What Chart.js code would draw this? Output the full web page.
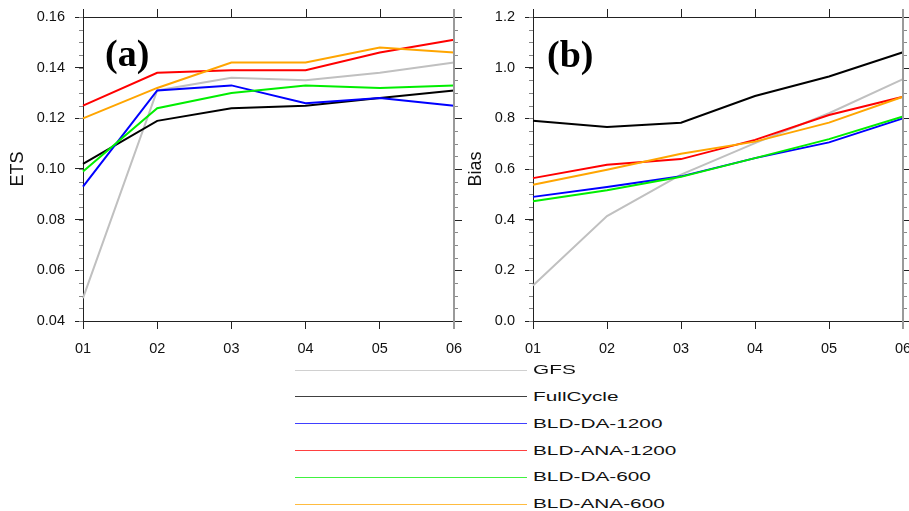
<!DOCTYPE html>
<html><head><meta charset="utf-8">
<script src="https://cdn.jsdelivr.net/npm/chart.js@4"></script>
<style>
html,body{margin:0;padding:0;background:#fff;overflow:hidden;width:909px;height:511px;position:relative;}
.pane{position:absolute;top:0;height:360px;}
.pane canvas{display:block;}
.plabel{position:absolute;font-family:'Liberation Serif','Times New Roman',serif;font-weight:bold;font-size:38px;line-height:1;color:#000;white-space:nowrap;}
.lgline{position:absolute;height:1px;left:295px;width:232px;opacity:0.75;}
.lgtext{position:absolute;left:533px;font-family:'Liberation Sans',Arial,Helvetica,sans-serif;font-size:13px;line-height:16px;height:16px;color:#111;transform:scaleX(1.6);transform-origin:0 50%;white-space:nowrap;}
</style></head><body>
<div class="pane" style="left:0;width:472px"><canvas id="c1" width="472" height="360"></canvas></div>
<div class="pane" style="left:450px;width:460px"><canvas id="c2" width="460" height="360"></canvas></div>
<div class="plabel" style="left:105px;top:34px">(a)</div>
<div class="plabel" style="left:547px;top:35px">(b)</div>
<div id="legend"></div>
<script>
// ---- data ----
const leadTimes = ['01','02','03','04','05','06'];
const seriesNames = ['GFS','FullCycle','BLD-DA-1200','BLD-ANA-1200','BLD-DA-600','BLD-ANA-600'];
const seriesColors = ['#c0c0c0','#000000','#0000ff','#ff0000','#00ee00','#ffa500'];

const gfsETS      = [0.049, 0.131, 0.136, 0.135, 0.138, 0.142];
const fullETS     = [0.102, 0.119, 0.124, 0.125, 0.128, 0.131];
const da1200ETS   = [0.093, 0.131, 0.133, 0.126, 0.128, 0.125];
const ana1200ETS  = [0.125, 0.138, 0.139, 0.139, 0.146, 0.151];
const da600ETS    = [0.099, 0.124, 0.130, 0.133, 0.132, 0.133];
const ana600ETS   = [0.120, 0.132, 0.142, 0.142, 0.148, 0.146];

const gfsBias     = [0.140, 0.414, 0.578, 0.702, 0.820, 0.955];
const fullBias    = [0.790, 0.766, 0.783, 0.888, 0.965, 1.061];
const da1200Bias  = [0.490, 0.529, 0.571, 0.643, 0.705, 0.800];
const ana1200Bias = [0.564, 0.617, 0.639, 0.715, 0.813, 0.885];
const da600Bias   = [0.473, 0.516, 0.569, 0.643, 0.718, 0.807];
const ana600Bias  = [0.538, 0.597, 0.660, 0.708, 0.783, 0.885];

const etsTicks  = {min:0.04, max:0.16, step:0.02, minor:0.005, digits:2};
const biasTicks = {min:0.0,  max:1.2,  step:0.2,  minor:0.05,  digits:1};

const etsSeries  = [gfsETS, fullETS, da1200ETS, ana1200ETS, da600ETS, ana600ETS];
const biasSeries = [gfsBias, fullBias, da1200Bias, ana1200Bias, da600Bias, ana600Bias];

// ---- frame plugin (top/right axes, minor ticks) ----
const framePlugin = {
  id: 'frame',
  afterDraw(chart, args, o) {
    const {ctx, chartArea: {left, right, top, bottom}} = chart;
    const x = chart.scales.x, y = chart.scales.y;
    const t = o.ticks;
    ctx.save();
    ctx.lineWidth = 1;
    ctx.strokeStyle = '#888';
    const nMinor = Math.round((t.max - t.min) / t.minor);
    for (let k = 0; k <= nMinor; k++) {
      const v = t.min + k * t.minor;
      const py = Math.round(y.getPixelForValue(v)) + 0.5;
      ctx.beginPath();
      ctx.moveTo(left - 4, py); ctx.lineTo(left, py);
      ctx.moveTo(right, py); ctx.lineTo(right + 4, py);
      ctx.stroke();
    }
    ctx.strokeStyle = '#222';
    const nMajor = Math.round((t.max - t.min) / t.step);
    for (let k = 0; k <= nMajor; k++) {
      const v = t.min + k * t.step;
      const py = Math.round(y.getPixelForValue(v)) + 0.5;
      ctx.beginPath(); ctx.moveTo(right, py); ctx.lineTo(right + 8, py); ctx.stroke();
    }
    const ty = Math.round(top) + 0.5;
    ctx.beginPath(); ctx.moveTo(left, ty); ctx.lineTo(right, ty); ctx.stroke();
    for (let i = 0; i < leadTimes.length; i++) {
      const px = Math.round(x.getPixelForValue(i)) + 0.5;
      ctx.beginPath(); ctx.moveTo(px, top); ctx.lineTo(px, top - 8); ctx.stroke();
    }
    ctx.strokeStyle = '#9a9a9a';
    ctx.lineWidth = 2;
    const rx = Math.round(right);
    ctx.beginPath(); ctx.moveTo(rx, top - 8); ctx.lineTo(rx, bottom + 8); ctx.stroke();
    ctx.restore();
  }
};

const FONT = "'Liberation Sans', Arial, Helvetica, sans-serif";

function makeChart(id, series, tk, title, titlePad, padRight) {
  return new Chart(document.getElementById(id), {
    type: 'line',
    data: {
      labels: leadTimes,
      datasets: series.map((d, i) => ({
        label: seriesNames[i],
        data: d,
        borderColor: seriesColors[i],
        backgroundColor: seriesColors[i],
        borderWidth: 2,
        pointRadius: 0,
        tension: 0,
        fill: false,
        order: series.length - i
      }))
    },
    options: {
      responsive: false,
      animation: false,
      devicePixelRatio: 1,
      layout: {padding: {top: 17, right: padRight, left: 0, bottom: 0}},
      plugins: {
        legend: {display: false},
        tooltip: {enabled: false},
        frame: {ticks: tk}
      },
      scales: {
        x: {
          type: 'category',
          offset: false,
          grid: {display: true, drawOnChartArea: false, tickLength: 8, color: '#222', lineWidth: 1},
          border: {display: true, color: '#222', width: 1},
          ticks: {font: {family: FONT, size: 14.5}, color: '#111', padding: 11, maxRotation: 0, autoSkip: false},
          afterFit(s) { s.height = 39; s.paddingLeft = 0; s.paddingRight = 0; }
        },
        y: {
          min: tk.min, max: tk.max,
          grid: {display: true, drawOnChartArea: false, tickLength: 8, color: '#222', lineWidth: 1},
          border: {display: true, color: '#222', width: 1},
          ticks: {
            stepSize: tk.step,
            font: {family: FONT, size: 14.5}, color: '#111', padding: 10,
            callback: (v) => Number(v).toFixed(tk.digits)
          },
          title: {display: true, text: title, font: {family: FONT, size: 18, lineHeight: 1.2}, color: '#111', padding: {top: titlePad, bottom: 0}},
          afterFit(s) { s.width = 83; s.paddingTop = 0; s.paddingBottom = 0; }
        }
      }
    },
    plugins: [framePlugin]
  });
}

makeChart('c1', etsSeries, etsTicks, 'ETS', 7, 18);
makeChart('c2', biasSeries, biasTicks, 'Bias', 15, 7);

// ---- legend (HTML) ----
const legendY = [370, 396.5, 423.5, 450.5, 477, 504];
const lg = document.getElementById('legend');
seriesNames.forEach((n, i) => {
  const l = document.createElement('div');
  l.className = 'lgline';
  l.style.top = (legendY[i] - 0.5) + 'px';
  l.style.background = seriesColors[i];
  lg.appendChild(l);
  const t = document.createElement('div');
  t.className = 'lgtext';
  t.style.top = (legendY[i] - 8) + 'px';
  t.textContent = n;
  lg.appendChild(t);
});
</script>
</body></html>
